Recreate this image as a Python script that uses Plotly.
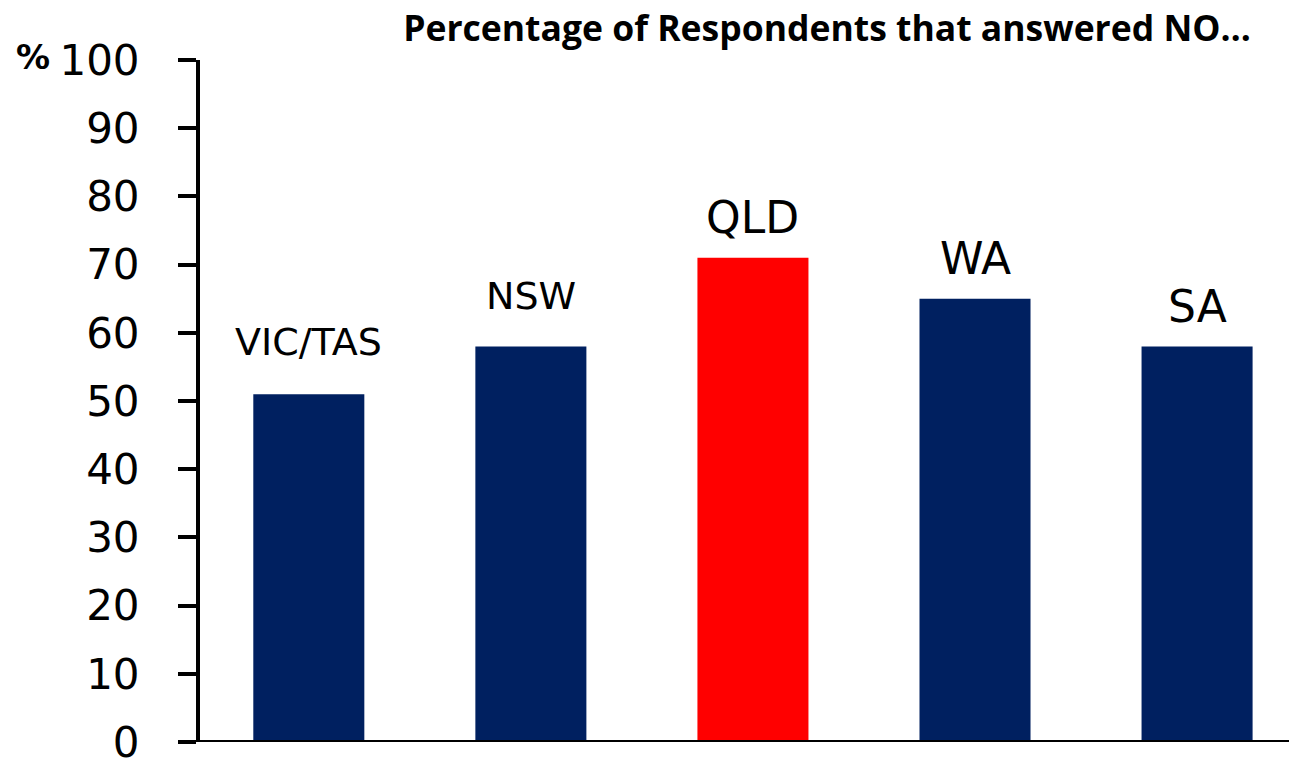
import plotly.graph_objects as go

states = ["VIC/TAS", "NSW", "QLD", "WA", "SA"]
pct_no = [51, 58, 71, 65, 58]
bar_colors = ["#002060", "#002060", "#FF0000", "#002060", "#002060"]
y_ticks = [0, 10, 20, 30, 40, 50, 60, 70, 80, 90, 100]

# label styling (size / offset above bar top)
label_sizes = [38, 38, 44, 44, 44]
label_shift = [52, 50, 40, 40, 40]

# page body has an 8px margin, so the figure is a little smaller
W, H = 1289, 750
L, T, B = 192, 52, 16
PW = W - L

fig = go.Figure(go.Bar(
    x=list(range(len(states))), y=pct_no,
    marker=dict(color=bar_colors, line=dict(width=0)),
    width=0.5, hoverinfo="skip",
))

for i, (s, v) in enumerate(zip(states, pct_no)):
    fig.add_annotation(x=i, y=v, text=s, showarrow=False,
                       yanchor="middle", yshift=label_shift[i],
                       font=dict(family="DejaVu Sans", size=label_sizes[i], color="black"))

fig.add_annotation(xref="paper", yref="paper", x=(6 - L) / PW, y=1.0, yshift=3,
                   xanchor="left", yanchor="middle", text="<b>%</b>", showarrow=False,
                   font=dict(family="DejaVu Sans", size=34, color="black"))

fig.update_layout(
    width=W, height=H,
    margin=dict(l=L, r=0, t=T, b=B, autoexpand=False),
    paper_bgcolor="white", plot_bgcolor="white",
    showlegend=False,
    title=dict(text="<b>Percentage of Respondents that answered NO…</b>",
               xref="container", x=(827 - 8) / W, xanchor="center",
               yref="container", y=1 - 21 / H, yanchor="middle",
               font=dict(family="Open Sans", size=35.5, color="black")),
    xaxis=dict(range=[-0.49, 4.45], showticklabels=False, ticks="",
               showgrid=False, zeroline=False, showline=False, fixedrange=True,
               automargin=False),
    yaxis=dict(range=[0, 100], tickvals=y_ticks, ticks="outside", ticklen=18,
               tickwidth=4, tickcolor="black", showline=True, linewidth=4,
               linecolor="black", showgrid=False, zeroline=False,
               ticklabelstandoff=30, automargin=False, ticklabeloverflow="allow",
               tickfont=dict(family="DejaVu Sans", size=42, color="black")),
)

# x axis baseline
fig.add_shape(type="line", xref="paper", yref="y", x0=-18 / PW, x1=1, y0=0, y1=0,
              line=dict(color="black", width=4))

fig.write_html("out.html")
